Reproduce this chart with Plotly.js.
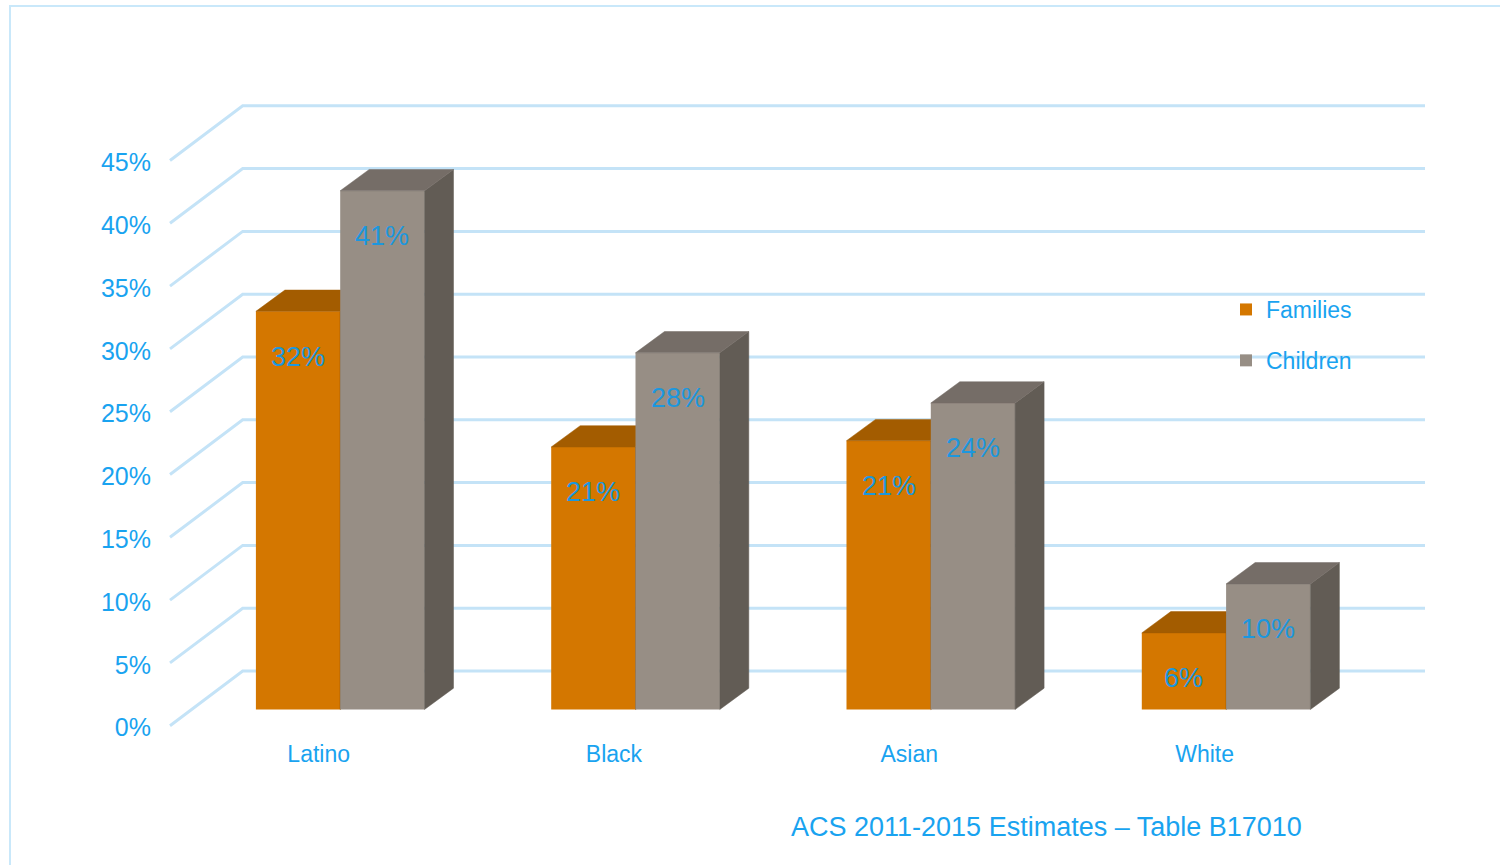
<!DOCTYPE html>
<html>
<head>
<meta charset="utf-8">
<script src="https://cdn.plot.ly/plotly-3.0.1.min.js"></script>
<style>
html,body{margin:0;padding:0;background:#ffffff;}
#chart{width:1500px;height:865px;}
</style>
</head>
<body>
<div id="chart"></div>
<script>
// ---------------- data ----------------
const groups = ['Latino', 'Black', 'Asian', 'White'];
const familiesPct = [31.7, 20.9, 21.4, 6.1];
const childrenPct = [41.3, 28.4, 24.4, 10.0];
const tickValues = [0, 5, 10, 15, 20, 25, 30, 35, 40, 45];
const seriesNames = ['Families', 'Children'];
const sourceNote = 'ACS 2011-2015 Estimates \u2013 Table B17010';

// ---------------- styling / geometry ----------------
const W = 1500, H = 865;
const M = {l: 158, r: 60, t: 40, b: 127};
const plotW = W - M.l - M.r;
const plotH = H - M.t - M.b;
const PX_X = 295.3;     // pixels per group unit
const PX_Y = 12.56;     // pixels per percent
const X0PX = 340.2;     // pixel of group 0 centre (front face)
const Y0PX = 709.5;     // pixel of 0% on the bar front face
const xRange = [(M.l - X0PX) / PX_X, (W - M.r - X0PX) / PX_X];
const yRange = [(Y0PX - (H - M.b)) / PX_Y, (Y0PX - M.t) / PX_Y];

const barW = 84.3 / PX_X;                 // width of one bar
const DX = 72.7 / PX_X, DY = 54.7 / PX_Y; // full depth (front plane -> back wall)
const frontFrac = 0.296;                  // depth of bar front face
const bDX = 29 / PX_X, bDY = 21.3 / PX_Y; // bar depth
const wallLeft = (242.7 - X0PX) / PX_X;
const wallRight = (1425 - X0PX) / PX_X;
const frontDX = -frontFrac * DX, frontDY = -frontFrac * DY;
const backDY = (1 - frontFrac) * DY;

const blueText = '#19A3F0';
const labelBlue = '#1C97DE';
const gridColor = '#C4E3F7';
const famFront = '#D47700', famTop = '#A35C00', famSide = '#7E4700';
const chFront = '#978E85', chTop = '#756D67', chSide = '#625C55';
const FONT = 'Liberation Sans, Arial, sans-serif';

// ---------------- gridlines (front plane -> back wall) ----------------
const gx = [], gy = [];
tickValues.forEach(v => {
  gx.push(wallLeft - DX, wallLeft, wallRight, null);
  gy.push(v + backDY - DY, v + backDY, v + backDY, null);
});

function facePolys(values, x0fn, kind) {
  const xs = [], ys = [];
  values.forEach((v, i) => {
    const x0 = x0fn(i), x1 = x0 + barW;
    if (kind === 'top') {
      xs.push(x0, x1, x1 + bDX, x0 + bDX, x0, null);
      ys.push(v, v, v + bDY, v + bDY, v, null);
    } else {
      xs.push(x1, x1, x1 + bDX, x1 + bDX, x1, null);
      ys.push(0, v, v + bDY, bDY, 0, null);
    }
  });
  return {xs, ys};
}

const idx = groups.map((g, i) => i);
const famX0 = i => i - barW;
const chX0 = i => i;

function faceTrace(values, x0fn, kind, color, z) {
  const p = facePolys(values, x0fn, kind);
  return {
    type: 'scatter', mode: 'lines', x: p.xs, y: p.ys,
    fill: 'toself', fillcolor: color,
    line: {color: color, width: 0.5},
    hoverinfo: 'skip', showlegend: false, zorder: z
  };
}

const traces = [
  {
    type: 'scatter', mode: 'lines', x: gx, y: gy,
    line: {color: gridColor, width: 3},
    hoverinfo: 'skip', showlegend: false, zorder: 0
  },
  {
    type: 'bar', name: seriesNames[0], legendgroup: 'f',
    x: idx, y: familiesPct, offset: -barW, width: barW, base: 0,
    marker: {color: famFront, line: {width: 0}}, zorder: 1,
    hoverinfo: 'skip'
  },
  faceTrace(familiesPct, famX0, 'side', famSide, 2),
  faceTrace(familiesPct, famX0, 'top', famTop, 2),
  {
    type: 'bar', name: seriesNames[1], legendgroup: 'c',
    x: idx, y: childrenPct, offset: 0, width: barW, base: 0,
    marker: {color: chFront, line: {width: 0}}, zorder: 3,
    hoverinfo: 'skip'
  },
  faceTrace(childrenPct, chX0, 'side', chSide, 4),
  faceTrace(childrenPct, chX0, 'top', chTop, 4)
];

// ---------------- data labels ----------------
const annotations = [];
[[familiesPct, -barW / 2], [childrenPct, barW / 2]].forEach(([vals, off]) => {
  vals.forEach((v, i) => {
    annotations.push({
      x: i + off, y: v - 3.6, xref: 'x', yref: 'y',
      text: Math.round(v) + '%', showarrow: false,
      font: {family: FONT, size: 27, color: labelBlue},
      xanchor: 'center', yanchor: 'middle'
    });
  });
});
annotations.push({
  xref: 'paper', yref: 'paper',
  x: (1046 - M.l) / plotW, y: ((H - M.b) - 827) / plotH,
  text: sourceNote, showarrow: false,
  font: {family: FONT, size: 27, color: blueText},
  xanchor: 'center', yanchor: 'middle'
});

const layout = {
  width: W, height: H,
  margin: {l: M.l, r: M.r, t: M.t, b: M.b, pad: 0},
  paper_bgcolor: '#ffffff', plot_bgcolor: 'rgba(0,0,0,0)',
  barmode: 'overlay',
  showlegend: true,
  legend: {
    x: (1226 - M.l) / plotW, y: ((H - M.b) - 288) / plotH,
    xanchor: 'left', yanchor: 'top',
    font: {family: FONT, size: 23, color: blueText},
    bgcolor: 'rgba(0,0,0,0)', tracegroupgap: 18, traceorder: 'grouped'
  },
  xaxis: {
    range: xRange, showgrid: false, zeroline: false, showline: false,
    ticks: '', tickmode: 'array',
    tickvals: idx.map(i => i + frontDX), ticktext: groups,
    tickfont: {family: FONT, size: 23, color: blueText},
    fixedrange: true
  },
  yaxis: {
    range: yRange, showgrid: false, zeroline: false, showline: false,
    ticks: '', tickmode: 'array',
    tickvals: tickValues.map(v => v + frontDY),
    ticktext: tickValues.map(v => v + '%'),
    tickfont: {family: FONT, size: 25, color: blueText},
    ticklabelstandoff: 6, ticklabelshift: 2,
    fixedrange: true
  },
  shapes: [{
    type: 'rect', xref: 'paper', yref: 'paper',
    x0: (10 - M.l) / plotW, x1: (1520 - M.l) / plotW,
    y0: ((H - M.b) - 6) / plotH, y1: ((H - M.b) - 900) / plotH,
    line: {color: '#C9E8FA', width: 2}, fillcolor: 'rgba(0,0,0,0)'
  }],
  annotations: annotations
};

Plotly.newPlot('chart', traces, layout, {displayModeBar: false, staticPlot: true});
</script>
</body>
</html>
